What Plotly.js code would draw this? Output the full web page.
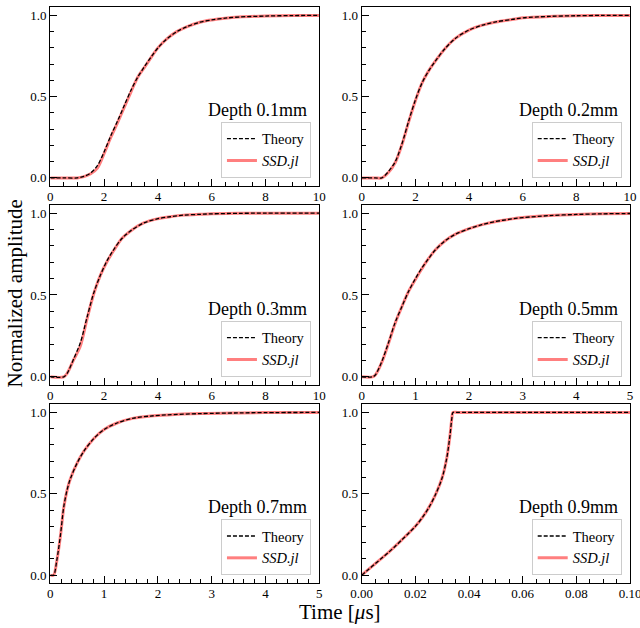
<!DOCTYPE html>
<html>
<head>
<meta charset="utf-8">
<script src="https://cdn.plot.ly/plotly-3.0.1.min.js"></script>
<style>html,body{margin:0;padding:0;background:#fff;}#chart{width:640px;height:628px;}</style>
</head>
<body>
<div id="chart"></div>
<script>
// ---- data ----
const depthLabels = ["Depth 0.1mm", "Depth 0.2mm", "Depth 0.3mm", "Depth 0.5mm", "Depth 0.7mm", "Depth 0.9mm"];
const seriesNames = ["Theory", "SSD.jl"];

const t01 = [0, 0.5, 1.0, 1.25, 1.5, 1.75, 2.0, 2.25, 2.5, 2.75, 3.0, 3.25, 3.5, 3.75, 4.0, 4.33, 4.7, 5.07, 5.56, 6.0, 6.5, 7.0, 8.0, 9.0, 10.0];
const theory01 = [0, 0, 0, 0.01, 0.03, 0.075, 0.16, 0.26, 0.35, 0.445, 0.54, 0.62, 0.685, 0.745, 0.80, 0.855, 0.90, 0.93, 0.958, 0.972, 0.983, 0.99, 0.996, 0.999, 1.0];
const ssd01    = [0, 0, 0, 0.008, 0.025, 0.06, 0.15, 0.25, 0.34, 0.435, 0.53, 0.62, 0.68, 0.742, 0.80, 0.855, 0.90, 0.93, 0.958, 0.972, 0.983, 0.99, 0.996, 0.999, 1.0];

const t02 = [0, 0.5, 0.75, 1.0, 1.25, 1.5, 1.75, 2.0, 2.25, 2.5, 2.75, 3.1, 3.5, 4.0, 4.5, 5.0, 5.6, 6.0, 7.0, 8.0, 9.0, 10.0];
const theory02 = [0, 0, 0, 0.04, 0.10, 0.21, 0.35, 0.48, 0.585, 0.66, 0.72, 0.795, 0.86, 0.91, 0.94, 0.96, 0.975, 0.985, 0.994, 0.998, 1.0, 1.0];
const ssd02    = [0, 0, 0, 0.035, 0.095, 0.205, 0.345, 0.475, 0.585, 0.66, 0.72, 0.795, 0.86, 0.91, 0.94, 0.96, 0.975, 0.985, 0.994, 0.998, 1.0, 1.0];

const t03 = [0, 0.5, 0.62, 0.87, 1.12, 1.36, 1.61, 1.86, 2.11, 2.35, 2.66, 2.97, 3.47, 3.97, 4.46, 4.96, 5.58, 6.0, 7.0, 8.0, 10.0];
const theory03 = [0, 0, 0.02, 0.11, 0.21, 0.36, 0.51, 0.62, 0.71, 0.775, 0.845, 0.89, 0.94, 0.965, 0.978, 0.988, 0.993, 0.996, 0.999, 1.0, 1.0];
const ssd03    = [0, 0, 0.02, 0.105, 0.19, 0.35, 0.505, 0.62, 0.705, 0.77, 0.845, 0.89, 0.94, 0.965, 0.978, 0.988, 0.993, 0.996, 0.999, 1.0, 1.0];

const t05 = [0, 0.2, 0.25, 0.37, 0.5, 0.62, 0.75, 0.87, 1.0, 1.12, 1.24, 1.37, 1.55, 1.74, 2.0, 2.24, 2.48, 2.8, 3.0, 3.5, 4.0, 4.5, 5.0];
const theory05 = [0, 0, 0.01, 0.09, 0.21, 0.33, 0.43, 0.52, 0.60, 0.665, 0.72, 0.775, 0.83, 0.87, 0.905, 0.93, 0.948, 0.965, 0.973, 0.985, 0.992, 0.996, 0.998];
const ssd05    = [0, 0, 0.01, 0.085, 0.205, 0.325, 0.43, 0.52, 0.595, 0.66, 0.72, 0.775, 0.83, 0.87, 0.905, 0.93, 0.948, 0.965, 0.973, 0.985, 0.992, 0.996, 0.998];

const t07 = [0, 0.06, 0.12, 0.19, 0.25, 0.31, 0.37, 0.5, 0.62, 0.81, 1.0, 1.24, 1.55, 1.86, 2.17, 2.8, 3.5, 4.0, 5.0];
const theory07 = [0, 0, 0.09, 0.25, 0.42, 0.52, 0.59, 0.69, 0.76, 0.84, 0.895, 0.935, 0.965, 0.978, 0.985, 0.993, 0.997, 0.999, 1.0];
const ssd07    = [0, 0, 0.085, 0.245, 0.415, 0.52, 0.59, 0.69, 0.76, 0.84, 0.895, 0.935, 0.965, 0.978, 0.985, 0.993, 0.997, 0.999, 1.0];

const t09 = [0, 0.0025, 0.005, 0.0075, 0.01, 0.0125, 0.015, 0.0175, 0.02, 0.0225, 0.025, 0.0275, 0.03, 0.0317, 0.0329, 0.0336, 0.0340, 0.036, 0.06, 0.1];
const theory09 = [0, 0.035, 0.07, 0.105, 0.14, 0.178, 0.218, 0.258, 0.30, 0.352, 0.415, 0.495, 0.60, 0.72, 0.86, 0.965, 1.0, 1.0, 1.0, 1.0];
const ssd09    = [0, 0.035, 0.07, 0.105, 0.14, 0.178, 0.218, 0.258, 0.30, 0.352, 0.415, 0.495, 0.60, 0.72, 0.86, 0.965, 1.0, 1.0, 1.0, 1.0];

const xRanges = [[0, 10], [0, 10], [0, 10], [0, 5], [0, 5], [0, 0.1]];
const xTickVals = [
  [0, 2, 4, 6, 8, 10], [0, 2, 4, 6, 8, 10], [0, 2, 4, 6, 8, 10],
  [0, 1, 2, 3, 4, 5], [0, 1, 2, 3, 4, 5],
  [0, 0.02, 0.04, 0.06, 0.08, 0.1]
];
const xTickText = [
  ["0", "2", "4", "6", "8", "10"], ["0", "2", "4", "6", "8", "10"], ["0", "2", "4", "6", "8", "10"],
  ["0", "1", "2", "3", "4", "5"], ["0", "1", "2", "3", "4", "5"],
  ["0.00", "0.02", "0.04", "0.06", "0.08", "0.10"]
];
const yTickVals = [0, 0.5, 1.0];
const yTickText = ["0.0", "0.5", "1.0"];

const times = [t01, t02, t03, t05, t07, t09];
const theory = [theory01, theory02, theory03, theory05, theory07, theory09];
const ssd = [ssd01, ssd02, ssd03, ssd05, ssd07, ssd09];

// ---- layout geometry ----
const FONT = "Liberation Serif, Times New Roman, serif";
const colDom = [[0.0786, 0.4989], [0.5652, 0.9844]];
const rowDom = [[0.7038, 0.9884], [0.3869, 0.6736], [0.0712, 0.3562]];
const xMinor = [0.5, 0.5, 0.5, 0.2, 0.2, 0.005];

const traces = [];
const layout = {
  width: 640, height: 628,
  margin: {l: 0, r: 0, t: 0, b: 0},
  paper_bgcolor: "white", plot_bgcolor: "white",
  showlegend: true,
  font: {family: FONT, color: "black"},
  annotations: []
};

for (let i = 0; i < 6; i++) {
  const r = Math.floor(i / 2), c = i % 2;
  const sfx = i === 0 ? "" : String(i + 1);
  const legName = "legend" + sfx;
  const xd = colDom[c], yd = rowDom[r];
  const span = xRanges[i][1] - xRanges[i][0];
  const smooth = {shape: "spline", smoothing: 0.9};
  traces.push({
    x: times[i], y: ssd[i], type: "scatter", mode: "lines",
    name: "<i>" + seriesNames[1] + "</i>", legend: legName, legendrank: 2,
    line: Object.assign({color: "rgba(255,0,0,0.5)", width: 3}, smooth),
    xaxis: "x" + sfx, yaxis: "y" + sfx, hoverinfo: "skip"
  });
  traces.push({
    x: times[i], y: theory[i], type: "scatter", mode: "lines",
    name: seriesNames[0], legend: legName, legendrank: 1,
    line: Object.assign({color: "black", width: 1.3, dash: "4px,2px"}, smooth),
    xaxis: "x" + sfx, yaxis: "y" + sfx, hoverinfo: "skip"
  });
  layout["xaxis" + sfx] = {
    domain: xd, anchor: "y" + sfx,
    range: [xRanges[i][0] - span * 1e-6, xRanges[i][1] + span * 1e-6],
    tickmode: "array", tickvals: xTickVals[i], ticktext: xTickText[i],
    ticks: "inside", ticklen: 7, tickwidth: 1, tickcolor: "black",
    ticklabelstandoff: -2, ticklabeloverflow: "allow",
    minor: {ticks: "inside", ticklen: 4, tickwidth: 1, tickcolor: "black", dtick: xMinor[i], tick0: 0},
    showline: true, linecolor: "black", linewidth: 1.2, mirror: true,
    showgrid: false, zeroline: false,
    tickfont: {family: FONT, size: 13, color: "black"}
  };
  layout["yaxis" + sfx] = {
    domain: yd, anchor: "x" + sfx, range: [-0.05, 1.05],
    tickmode: "array", tickvals: yTickVals, ticktext: yTickText,
    ticks: "inside", ticklen: 7, tickwidth: 1, tickcolor: "black",
    minor: {ticks: "inside", ticklen: 4, tickwidth: 1, tickcolor: "black", dtick: 0.1, tick0: 0},
    showline: true, linecolor: "black", linewidth: 1.2, mirror: true,
    showgrid: false, zeroline: false,
    tickfont: {family: FONT, size: 13, color: "black"}
  };
  layout[legName] = {
    x: xd[0] + 0.969 * (xd[1] - xd[0]), xanchor: "right",
    y: yd[0] + 0.046 * (yd[1] - yd[0]), yanchor: "bottom",
    bgcolor: "rgba(255,255,255,0.8)", bordercolor: "#cccccc", borderwidth: 1,
    font: {family: FONT, size: 14.5, color: "black"},
    itemwidth: 30, tracegroupgap: 0
  };
  layout.annotations.push({
    text: depthLabels[i], xref: "x" + sfx + " domain", yref: "y" + sfx + " domain",
    x: 0.962, y: 0.425, xanchor: "right", yanchor: "middle", showarrow: false,
    font: {family: FONT, size: 18, color: "black"}
  });
}

layout.annotations.push({
  text: "Normalized amplitude", xref: "paper", yref: "paper",
  x: 0.0234, y: 0.5326, xanchor: "center", yanchor: "middle", textangle: -90, showarrow: false,
  font: {family: FONT, size: 21, color: "black"}
});
layout.annotations.push({
  text: "Time [<i>μ</i>s]", xref: "paper", yref: "paper",
  x: 0.531, y: 0.026, xanchor: "center", yanchor: "middle", showarrow: false,
  font: {family: FONT, size: 21, color: "black"}
});

Plotly.newPlot("chart", traces, layout, {displayModeBar: false, staticPlot: true});
</script>
</body>
</html>
